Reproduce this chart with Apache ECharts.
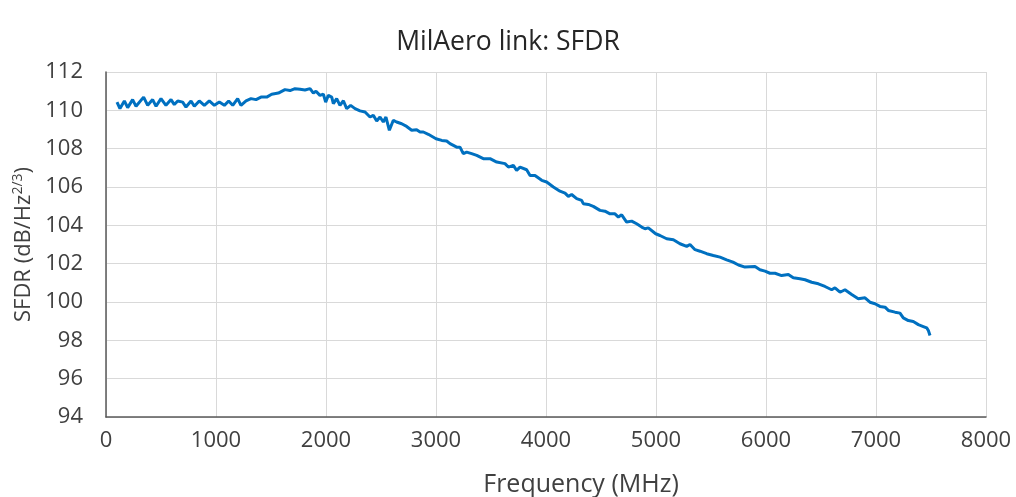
<!DOCTYPE html>
<html>
<head>
<meta charset="utf-8">
<script src="https://cdn.jsdelivr.net/npm/echarts@6/dist/echarts.min.js"></script>
<style>
  html, body { margin: 0; padding: 0; background: #fff; }
  #chart { width: 1016px; height: 497px; }
</style>
</head>
<body>
<div id="chart"></div>
<script>
const title = 'MilAero link: SFDR';
const xAxisName = 'Frequency (MHz)';
const xTicks = [0, 1000, 2000, 3000, 4000, 5000, 6000, 7000, 8000];
const yTicks = [94, 96, 98, 100, 102, 104, 106, 108, 110, 112];

const freqMHz = [
  100, 127, 167, 197, 242, 273, 342, 379, 424, 455,
  500, 545, 591, 621, 652, 697, 727, 773, 803, 848,
  894, 939, 985, 1030, 1076, 1115, 1152, 1197, 1227, 1273,
  1318, 1364, 1409, 1461, 1506, 1567, 1627, 1673, 1718, 1764,
  1809, 1855, 1885, 1909, 1945, 1976, 1997, 2021, 2052, 2067,
  2097, 2127, 2158, 2188, 2224, 2264, 2309, 2355, 2400, 2430,
  2461, 2491, 2521, 2545, 2576, 2612, 2642, 2688, 2733, 2779,
  2824, 2855, 2885, 2930, 3000, 3052, 3097, 3127, 3158, 3188,
  3218, 3248, 3279, 3324, 3370, 3430, 3491, 3552, 3627, 3658,
  3703, 3733, 3764, 3824, 3855, 3900, 3961, 4006, 4067, 4127,
  4173, 4203, 4233, 4279, 4324, 4339, 4385, 4430, 4491, 4536,
  4582, 4627, 4658, 4688, 4733, 4779, 4824, 4870, 4900, 4930,
  4997, 5036, 5097, 5158, 5218, 5279, 5309, 5355, 5400, 5461,
  5521, 5582, 5642, 5700, 5750, 5809, 5900, 5945, 5991, 6036,
  6082, 6142, 6203, 6248, 6309, 6355, 6415, 6476, 6536, 6597,
  6627, 6673, 6718, 6779, 6839, 6900, 6945, 6991, 7036, 7082,
  7112, 7173, 7218, 7248, 7294, 7339, 7385, 7430, 7461, 7476,
  7491
];

const sfdr = [
  110.43, 110.09, 110.49, 110.14, 110.56, 110.21, 110.69, 110.26, 110.56, 110.21,
  110.61, 110.26, 110.56, 110.30, 110.49, 110.43, 110.17, 110.49, 110.21, 110.49,
  110.26, 110.49, 110.26, 110.43, 110.26, 110.49, 110.26, 110.61, 110.26, 110.49,
  110.61, 110.56, 110.69, 110.69, 110.84, 110.90, 111.08, 111.03, 111.13, 111.10,
  111.06, 111.13, 110.90, 111.00, 110.78, 110.85, 110.43, 110.78, 110.69, 110.35,
  110.61, 110.26, 110.50, 110.09, 110.26, 110.09, 109.97, 109.91, 109.65, 109.74,
  109.44, 109.65, 109.39, 109.65, 108.96, 109.48, 109.39, 109.30, 109.16, 108.96,
  108.99, 108.87, 108.87, 108.75, 108.52, 108.43, 108.40, 108.26, 108.17, 108.08,
  108.08, 107.74, 107.82, 107.74, 107.65, 107.48, 107.48, 107.30, 107.22, 107.04,
  107.13, 106.87, 107.04, 106.90, 106.60, 106.60, 106.35, 106.26, 106.00, 105.78,
  105.68, 105.51, 105.61, 105.39, 105.30, 105.13, 105.09, 104.99, 104.78, 104.74,
  104.60, 104.60, 104.43, 104.55, 104.17, 104.22, 104.08, 103.91, 103.82, 103.87,
  103.56, 103.47, 103.30, 103.25, 103.04, 102.90, 103.00, 102.73, 102.65, 102.52,
  102.43, 102.34, 102.20, 102.08, 101.93, 101.82, 101.85, 101.68, 101.61, 101.50,
  101.50, 101.38, 101.43, 101.26, 101.21, 101.16, 101.03, 100.95, 100.81, 100.64,
  100.74, 100.51, 100.64, 100.39, 100.17, 100.22, 99.99, 99.91, 99.77, 99.73,
  99.56, 99.47, 99.42, 99.17, 99.03, 98.98, 98.82, 98.72, 98.65, 98.51,
  98.25
];

const seriesData = freqMHz.map((f, i) => [f, sfdr[i]]);
const FONT = '"Open Sans", "DejaVu Sans", sans-serif';

const chart = echarts.init(document.getElementById('chart'), null, { renderer: 'canvas' });
chart.setOption({
  animation: false,
  backgroundColor: '#ffffff',
  title: {
    text: title,
    left: 'center',
    top: 24,
    textStyle: { fontFamily: FONT, fontSize: 26.5, fontWeight: 'normal', color: '#262626' }
  },
  grid: { left: 106, right: 30, top: 72, bottom: 80, containLabel: false, outerBoundsMode: 'none' },
  xAxis: {
    type: 'value',
    min: xTicks[0],
    max: xTicks[xTicks.length - 1],
    interval: 1000,
    name: xAxisName,
    nameLocation: 'middle',
    nameGap: 55,
    nameTextStyle: { fontFamily: FONT, fontSize: 25, color: '#404040', padding: [0, 0, 0, 70] },
    axisLine: { show: true, onZero: false, lineStyle: { color: '#595959', width: 1.5 } },
    axisTick: { show: false },
    axisLabel: { fontFamily: FONT, fontSize: 22, color: '#404040', margin: 13, formatter: v => String(v) },
    splitLine: { show: true, lineStyle: { color: '#d9d9d9', width: 1 } }
  },
  yAxis: {
    type: 'value',
    min: yTicks[0],
    max: yTicks[yTicks.length - 1],
    interval: 2,
    name: '{a|SFDR (dB/Hz}{s|2/3}{a|)}',
    nameLocation: 'middle',
    nameGap: 68,
    nameRotate: 90,
    nameTextStyle: {
      fontFamily: FONT, color: '#404040',
      rich: {
        a: { fontFamily: FONT, fontSize: 22, color: '#404040' },
        s: { fontFamily: FONT, fontSize: 14, color: '#404040', padding: [0, 0, 10, 0] }
      }
    },
    axisLine: { show: true, onZero: false, lineStyle: { color: '#595959', width: 1.5 } },
    axisTick: { show: false },
    axisLabel: { fontFamily: FONT, fontSize: 22, color: '#404040', margin: 23 },
    splitLine: { show: true, lineStyle: { color: '#d9d9d9', width: 1 } }
  },
  series: [{
    type: 'line',
    data: seriesData,
    showSymbol: false,
    smooth: false,
    lineStyle: { color: '#0070C0', width: 3 },
    itemStyle: { color: '#0070C0' }
  }]
});
</script>
</body>
</html>
